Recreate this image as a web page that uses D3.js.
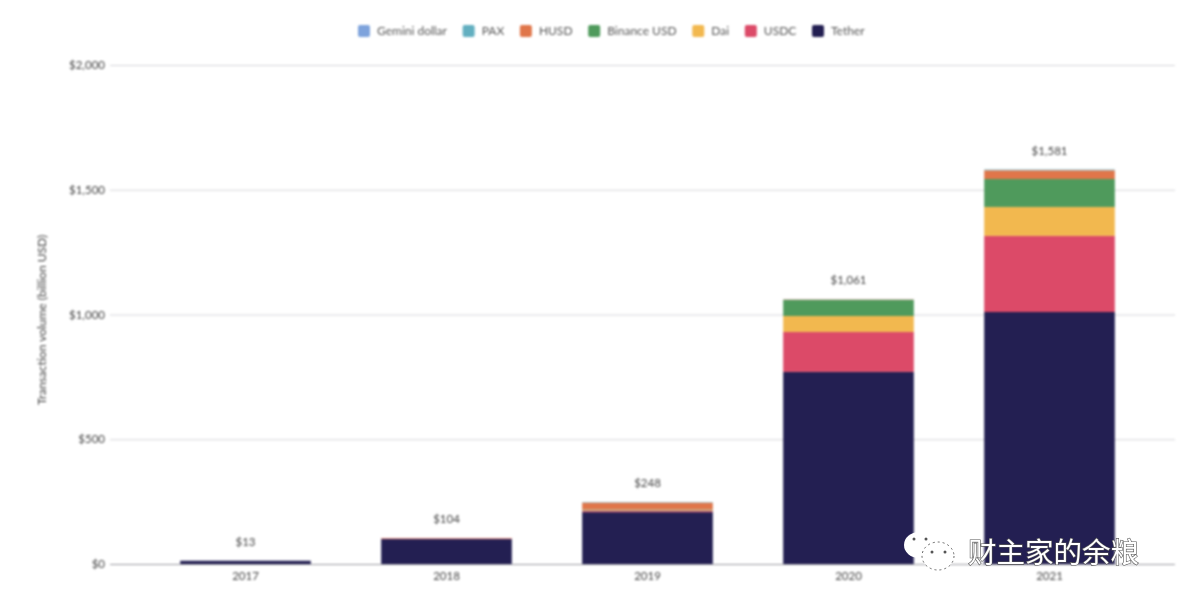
<!DOCTYPE html>
<html>
<head>
<meta charset="utf-8">
<script src="https://cdn.jsdelivr.net/npm/d3@7"></script>
<style>
  html, body { margin: 0; background: #fff; }
  svg { display: block; }
  text { font-family: Lato, "Noto Sans", sans-serif; }
  .blurred { filter: blur(1.2px); }
  .mark { filter: blur(0.7px); }
</style>
</head>
<body>
<svg width="1192" height="614"></svg>
<script>
const years = ['2017', '2018', '2019', '2020', '2021'];
const totalLabels = ['$13', '$104', '$248', '$1,061', '$1,581'];
const yTicks = [0, 500, 1000, 1500, 2000];

// legend order, top of the stack comes first
const seriesNames = ['Gemini dollar', 'PAX', 'HUSD', 'Binance USD', 'Dai', 'USDC', 'Tether'];
const seriesColors = ['#7ea3dc', '#62afc0', '#e0764a', '#4f9a5c', '#f2b84f', '#dc4a68', '#231f52'];

const gemini = [0, 0, 0, 0, 0];
const pax = [0, 0, 2, 1, 3];
const husd = [0, 2, 28, 2, 35];
const binance = [0, 0, 3, 64, 112];
const dai = [0, 0, 2, 64, 116];
const usdc = [0, 2, 5, 160, 305];
const tether = [13, 100, 208, 770, 1010];

const seriesValues = [gemini, pax, husd, binance, dai, usdc, tether];

const svg = d3.select('svg');
const chart = svg.append('g').attr('class', 'blurred');

const x = d3.scaleBand().domain(years).range([145, 1150]).paddingInner(0.35).paddingOuter(0.175);
const y = d3.scaleLinear().domain([0, 2000]).range([564, 65]);

// y axis with gridlines
const yAxis = d3.axisLeft(y)
  .tickValues(yTicks)
  .tickSize(-1065)
  .tickPadding(5)
  .tickFormat(d => '$' + d3.format(',')(d));

const yG = chart.append('g')
  .attr('transform', 'translate(110,0)')
  .call(yAxis);
yG.select('.domain').remove();
yG.selectAll('.tick line').attr('stroke', d => d === 0 ? '#9a9aa0' : '#d6d6da');
yG.selectAll('.tick text').attr('fill', '#444').attr('font-size', 11.5);

// stacked bars
const rows = years.map((year, i) => {
  const row = { year };
  seriesNames.forEach((name, s) => { row[name] = seriesValues[s][i]; });
  return row;
});
const stacked = d3.stack().keys(seriesNames.slice().reverse())(rows);
const color = d3.scaleOrdinal().domain(seriesNames).range(seriesColors);

chart.selectAll('g.series')
  .data(stacked)
  .enter()
  .append('g')
  .attr('class', 'series')
  .attr('fill', d => color(d.key))
  .selectAll('rect')
  .data(d => d)
  .enter()
  .append('rect')
  .attr('x', d => x(d.data.year))
  .attr('width', x.bandwidth())
  .attr('y', d => y(d[1]))
  .attr('height', d => y(d[0]) - y(d[1]));

// totals above the bars
chart.selectAll('text.total')
  .data(years)
  .enter()
  .append('text')
  .attr('class', 'total')
  .attr('x', d => x(d) + x.bandwidth() / 2)
  .attr('y', (d, i) => y(d3.sum(seriesValues, s => s[i])) - 15)
  .attr('text-anchor', 'middle')
  .attr('font-size', 11.5)
  .attr('fill', '#444')
  .text((d, i) => totalLabels[i]);

// x axis labels
const xAxis = d3.axisBottom(x).tickSize(0).tickPadding(8);
const xG = chart.append('g').attr('transform', 'translate(0,564)').call(xAxis);
xG.select('.domain').remove();
xG.selectAll('.tick text').attr('fill', '#444').attr('font-size', 11.5);

chart.append('text')
  .attr('transform', 'translate(46,320) rotate(-90)')
  .attr('text-anchor', 'middle')
  .attr('font-size', 12)
  .attr('fill', '#444')
  .text('Transaction volume (billion USD)');

// legend, laid out left to right from measured text
const legend = chart.append('g').attr('transform', 'translate(358,31)');
let legendX = 0;
seriesNames.forEach((name, i) => {
  const item = legend.append('g').attr('transform', `translate(${legendX},0)`);
  item.append('rect')
    .attr('y', -6).attr('width', 12).attr('height', 12).attr('rx', 2)
    .attr('fill', seriesColors[i]);
  const label = item.append('text')
    .attr('x', 19).attr('y', 4)
    .attr('font-size', 12)
    .attr('fill', '#555')
    .text(name);
  legendX += 19 + label.node().getComputedTextLength() + 15.7;
});

// watermark over the chart
const mark = svg.append('g').attr('class', 'mark');
mark.append('ellipse').attr('cx', 919).attr('cy', 545).attr('rx', 15).attr('ry', 13).attr('fill', '#fff');
mark.append('ellipse').attr('cx', 938).attr('cy', 556).attr('rx', 16).attr('ry', 14)
  .attr('fill', '#fff').attr('stroke', '#666').attr('stroke-width', 1).attr('stroke-dasharray', '2 3');
mark.selectAll('circle')
  .data([[914, 539], [926, 539], [932, 552], [945, 552]])
  .enter()
  .append('circle')
  .attr('cx', d => d[0]).attr('cy', d => d[1]).attr('r', 1.5).attr('fill', '#555');
mark.append('text')
  .attr('x', 968).attr('y', 563)
  .attr('font-size', 28.5)
  .attr('fill', '#fff')
  .attr('stroke', '#555')
  .attr('stroke-width', 1.2)
  .attr('paint-order', 'stroke')
  .style('font-family', '"Noto Sans CJK SC"')
  .text('财主家的余粮');
</script>
</body>
</html>
